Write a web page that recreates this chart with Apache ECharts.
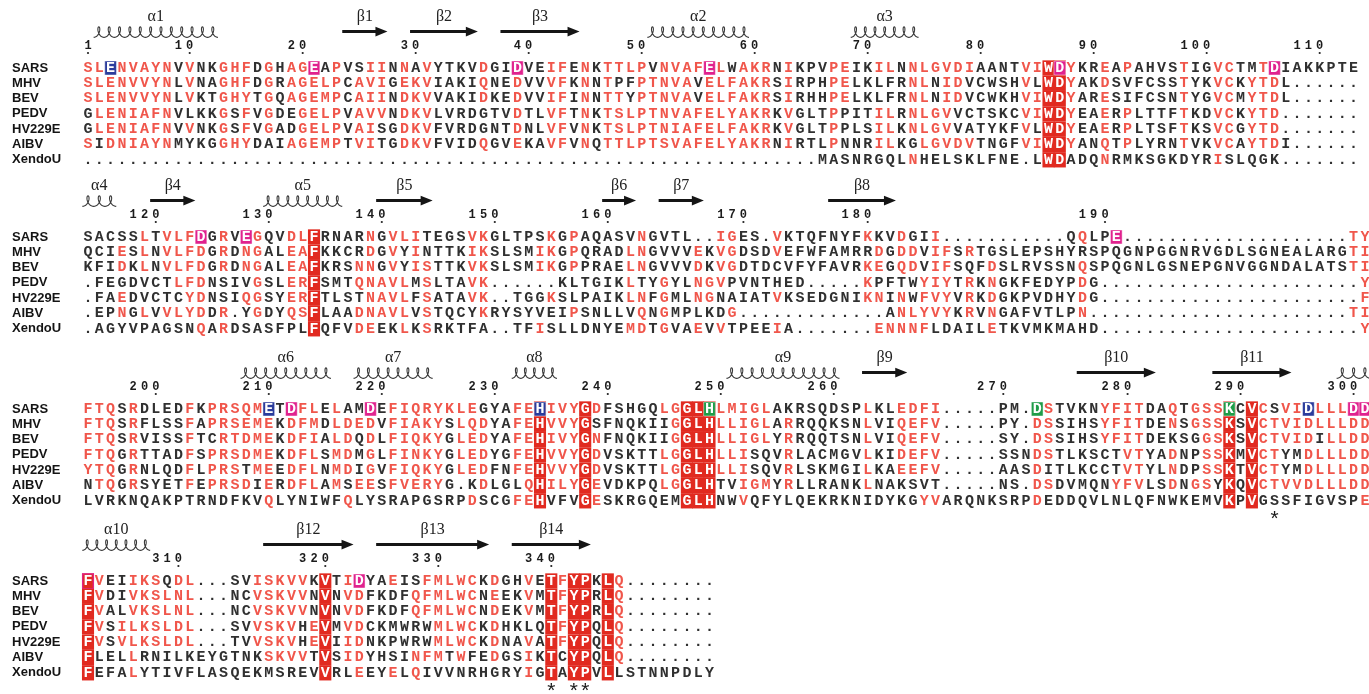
<!DOCTYPE html>
<html>
<head>
<meta charset="utf-8">
<title>Sequence alignment</title>
<script src="https://cdn.jsdelivr.net/npm/echarts@6/dist/echarts.min.js"></script>
<style>
  html, body { margin: 0; padding: 0; background: #ffffff; }
  #chart { width: 1369px; height: 694px; }
</style>
</head>
<body>
<div id="chart"></div>
<script>
// ---------------------------------------------------------------------------
// Alignment data: one array of sequences per block (rows in seqNames order)
// ---------------------------------------------------------------------------
const seqNames = ['SARS', 'MHV', 'BEV', 'PEDV', 'HV229E', 'AIBV', 'XendoU'];

const block1Seqs = [
  'SLENVAYNVVNKGHFDGHAGEAPVSIINNAVYTKVDGIDVEIFENKTTLPVNVAFELWAKRNIKPVPEIKILNNLGVDIAANTVIWDYKREAPAHVSTIGVCTMTDIAKKPTE',
  'SLENVVYNLVNAGHFDGRAGELPCAVIGEKVIAKIQNEDVVVFKNNTPFPTNVAVELFAKRSIRPHPELKLFRNLNIDVCWSHVLWDYAKDSVFCSSTYKVCKYTDL......',
  'SLENVVYNLVKTGHYTGQAGEMPCAIINDKVVAKIDKEDVVIFINNTTYPTNVAVELFAKRSIRHHPELKLFRNLNIDVCWKHVIWDYARESIFCSNTYGVCMYTDL......',
  'GLENIAFNVLKKGSFVGDEGELPVAVVNDKVLVRDGTVDTLVFTNKTSLPTNVAFELYAKRKVGLTPPITILRNLGVVCTSKCVIWDYEAERPLTTFTKDVCKYTD.......',
  'GLENIAFNVVNKGSFVGADGELPVAISGDKVFVRDGNTDNLVFVNKTSLPTNIAFELFAKRKVGLTPPLSILKNLGVVATYKFVLWDYEAERPLTSFTKSVCGYTD.......',
  'SIDNIAYNMYKGGHYDAIAGEMPTVITGDKVFVIDQGVEKAVFVNQTTLPTSVAFELYAKRNIRTLPNNRILKGLGVDVTNGFVIWDYANQTPLYRNTVKVCAYTDI......',
  '..........' + '..........' + '..........' + '..........' + '..........' + '..........' + '.....' +
    'MASNRGQLNHELSKLFNE.LWDADQNRMKSGKDYRISLQGK.......'
];

const block2Seqs = [
  'SACSSLTVLFDGRVEGQVDLFRNARNGVLITEGSVKGLTPSKGPAQASVNGVTL..IGES.VKTQFNYFKKVDGII...........QQLPE....................TY',
  'QCIESLNVLFDGRDNGALEAFKKCRDGVYINTTKIKSLSMIKGPQRADLNGVVVEKVGDSDVEFWFAMRRDGDDVIFSRTGSLEPSHYRSPQGNPGGNRVGDLSGNEALARGTI',
  'KFIDKLNVLFDGRDNGALEAFKRSNNGVYISTTKVKSLSMIKGPPRAELNGVVVDKVGDTDCVFYFAVRKEGQDVIFSQFDSLRVSSNQSPQGNLGSNEPGNVGGNDALATSTI',
  '.FEGDVCTLFDNSIVGSLERFSMTQNAVLMSLTAVK......KLTGIKLTYGYLNGVPVNTHED.....KPFTWYIYTRKNGKFEDYPDG.......................Y',
  '.FAEDVCTCYDNSIQGSYERFTLSTNAVLFSATAVK..TGGKSLPAIKLNFGMLNGNAIATVKSEDGNIKNINWFVYVRKDGKPVDHYDG.......................F',
  '.EPNGLVVLYDDR.YGDYQSFLAADNAVLVSTQCYKRYSYVEIPSNLLVQNGMPLKDG.............ANLYVYKRVNGAFVTLPN.......................TI',
  '.AGYVPAGSNQARDSASFPLFQFVDEEKLKSRKTFA..TFISLLDNYEMDTGVAEVVTPEEIA.......ENNNFLDAILETKVMKMAHD.......................Y'
];

const block3Seqs = [
  'FTQSRDLEDFKPRSQMETDFLELAMDEFIQRYKLEGYAFEHIVYGDFSHGQLGGLHLMIGLAKRSQDSPLKLEDFI.....PM.DSTVKNYFITDAQTGSSKCVCSVIDLLLDD',
  'FTQSRFLSSFAPRSEMEKDFMDLDEDVFIAKYSLQDYAFEHVVYGSFNQKIIGGLHLLIGLARRQQKSNLVIQEFV.....PY.DSSIHSYFITDENSGSSKSVCTVIDLLLDD',
  'FTQSRVISSFTCRTDMEKDFIALDQDLFIQKYGLEDYAFEHIVYGNFNQKIIGGLHLLIGLYRRQQTSNLVIQEFV.....SY.DSSIHSYFITDEKSGGSKSVCTVIDILLDD',
  'FTQGRTTADFSPRSDMEKDFLSMDMGLFINKYGLEDYGFEHVVYGDVSKTTLGGLHLLISQVRLACMGVLKIDEFV.....SSNDSTLKSCTVTYADNPSSKMVCTYMDLLLDD',
  'YTQGRNLQDFLPRSTMEEDFLNMDIGVFIQKYGLEDFNFEHVVYGDVSKTTLGGLHLLISQVRLSKMGILKAEEFV.....AASDITLKCCTVTYLNDPSSKTVCTYMDLLLDD',
  'NTQGRSYETFEPRSDIERDFLAMSEESFVERYG.KDLGLQHILYGEVDKPQLGGLHTVIGMYRLLRANKLNAKSVT.....NS.DSDVMQNYFVLSDNGSYKQVCTVVDLLLDD',
  'LVRKNQAKPTRNDFKVQLYNIWFQLYSRAPGSRPDSCGFEHVFVGESKRGQEMGLHNWVQFYLQEKRKNIDYKGYVARQNKSRPDEDDQVLNLQFNWKEMVKPVGSSFIGVSPE'
];

const block4Seqs = [
  'FVEIIKSQDL...SVISKVVKVTIDYAEISFMLWCKDGHVETFYPKLQ........',
  'FVDIVKSLNL...NCVSKVVNVNVDFKDFQFMLWCNEEKVMTFYPRLQ........',
  'FVALVKSLNL...NCVSKVVNVNVDFKDFQFMLWCNDEKVMTFYPRLQ........',
  'FVSILKSLDL...SVVSKVHEVMVDCKMWRWMLWCKDHKLQTFYPQLQ........',
  'FVSVLKSLDL...TVVSKVHEVIIDNKPWRWMLWCKDNAVATFYPQLQ........',
  'FLELLRNILKEYGTNKSKVVTVSIDYHSINFMTWFEDGSIKTCYPQLQ........',
  'FEFALYTIVFLASQEKMSREVVRLEEYELQIVVNRHGRYIGTAYPVLLSTNNPDLY'
];

// Residue classes, one token per alignment column, one letter per sequence:
// r = similar (red letter), k = plain, B = strictly identical (white on red),
// b / m / g = highlighted SARS residue (blue / magenta / green), M = identical
// with magenta rim.  "-" stands for a column without any similar residue.
const block1Classes = `
rrrkkrk rrrrrkk brrrrrk rrrrrrk rrrrrrk rrrrrrk rrrrrrk rrrrrrk - rrrkrkk
- - rrrrrrk rrrkkrk rrrrrrk - rrrrrkk - rrrkkrk rrrrrrk
mrrrrrk krrrrrk rrrrrrk - krrrrrk rrrrrrk rrrrkkk - rrrrrrk krrrrrk
rrrrrrk - - - - rrrkkrk - - mrrrrrk -
- rrrrrrk rrrrrrk - rrrrrrk - rrrrrrk rkrrrrk rkkrrrk rrrrrrk
krrrrrk rrrrrrk rrrrrrk rrrrrrk rkkrrrk mrrrrrk rrrrrrk krrrrrk rrrrrrk rrrrrrk
rrrrrrk - rrrrrrk - - - rrrrrrk rrrkkkk - -
rkkrrrk rkkrrrk - rrrrrkr rrrrrrk rkkrrrk rrrrrrk rrrkkrk rkkkkrk -
- - - rrrrrrk rkrrkrk BBBBBBB mBBBBBB rrrrrrk - -
rrrrrrr - rkkrrrk - - - - rrrrrrk - -
rrrrrrr rrrrrrk - krrrrrk rrrrrrk mrrrrrk - - - -
- - -`;

const block2Classes = `
- - - krrkrrk - rrrkkrk - rrrkkrk rrrrkrk rrrrrrk
mrrrrrr - rrrkkrr - mrrkrkk rrrrrrk - - rrrrrrk rrrrrrk
BBBBBBB - - - kkrrkrr rrrrrrr kkkrrrk rrrrrrk rkkrrrr rrrkkkk
kkrrrrr - - - rrrrrkk rrrrrrk - - - -
krrkkkr rrrkrkk - rrrkkrk - - - - krrrrkr rrrkrrr
- kkkrrrr - - krrrrkr kkkrrkk rrrrkkr rrrkkrk - -
- rrkkrkr - - - - - - - rkrrrkk
krrkrkr kkkkkkr rrrkrrr krrkkrr kkkrrrr rrrrrrk krrrrrk - krkrrrk -
kkrrrrr - - - - - - - rkrrrrk -
- mkkkkkk - - - - - - - -
- - - - - - - - - -
- - rrrkkrk rrrrrrr`;

const block3Classes = `
rrrrrkk rrrrrrk rrrrrrk - rrrrrrk - - - - rrrrrrk
- rrkrrrk rrrrrrk rrrrrrk rrrrkrk rrrrrkk brrrrrr - mrrrrrk rrrrrrk
rrrrrrk - rrrrrrk krrrrkr krkkkrk mrrrrrk - rrrrrrk rrrrrrk rrrrrrk
rrrrrrk rrrrrrk rkkkkkk rrrrrkk rrrrrkr krrrrrk - - rrrrrkr rrrrrrr
bBBBBBB rrrrrrk rrrrrrk rrrrrrk BBBBBBB rkrrrrr - - - -
- rkkrrrk rrrrrrk BBBBBBB BBBBBBB gBBBBBB rrrrrkk rrrrrkk rrrrrrr rrrkkrk
rrrkkrk - krrrrrk - - - - - - rrrrrrk
- - rrrrrkk rrrrrkk rrrrrkr rrrrrkr - - - -
- - - - grrrrrr rrrrkrk - - - -
rrrkkkk rrrkkrk rrrrrrk rrrrrrk - - rrkrrrk - rrkkkrk rrrrrrk
rrrrrkk gBBBBBB - BBBBBBB rrrrrrk krrrrrk rrrkkrk rrrkkrk brrrrrk rrkrrrk
rrrrrrk rrrrrrk mrrrrrk mrrrrrr`;

const block4Classes = `
MBBBBBB rrrrrkk - kkkrrkk rrrrrrr rrrrrkk rrrrrkk krrrrkk rrrrrkk rrrrrkk
- - - - - rrrrrkk rrrrrrk rrrrrrk rrrrrrk rrrkkrk
kkkrrkk BBBBBBB - rrrrrrk mrrrrrr - - rkkkkkr - krrkkrr
rrrkkrk rrrrrrk rrrrrkk rrrrrrk rrrrrkk - rrrrrrk - - rrrkrrr
- BBBBBBB rrrrrkk BBBBBBB BBBBBBB - BBBBBBB rrrrrrk - -
- - - - - -`;

// Secondary structure: [label, kind, first column, last column]
const block1Structure = [
  ['α1', 'helix', 2, 12], ['β1', 'strand', 24, 27], ['β2', 'strand', 30, 35],
  ['β3', 'strand', 38, 44], ['α2', 'helix', 51, 59], ['α3', 'helix', 69, 74]
];
const block2Structure = [
  ['α4', 'helix', 1, 3], ['β4', 'strand', 7, 10], ['α5', 'helix', 17, 23],
  ['β5', 'strand', 27, 31], ['β6', 'strand', 47, 49], ['β7', 'strand', 52, 55],
  ['β8', 'strand', 67, 72]
];
const block3Structure = [
  ['α6', 'helix', 15, 22], ['α7', 'helix', 25, 31], ['α8', 'helix', 39, 42],
  ['α9', 'helix', 58, 67], ['β9', 'strand', 70, 73], ['β10', 'strand', 89, 95],
  ['β11', 'strand', 101, 107], ['', 'helix', 112, 114]
];
const block4Structure = [
  ['α10', 'helix', 1, 6], ['β12', 'strand', 17, 24], ['β13', 'strand', 27, 36],
  ['β14', 'strand', 39, 45]
];

// Columns flagged with an asterisk under the block
const block1Marks = [];
const block2Marks = [];
const block3Marks = [106];
const block4Marks = [42, 44, 45];

// ---------------------------------------------------------------------------
// Layout and style
// ---------------------------------------------------------------------------
const COLOR = {
  text: '#303030',
  similar: '#f0564b',
  box: '#e12a20',
  blue: '#2b3c9c',
  magenta: '#e0228e',
  green: '#1f9c48',
  ink: '#151515'
};
const FONT_SEQ = 'bold 15px "Liberation Mono", "Courier New", monospace';
const FONT_NAME = 'bold 13px "Liberation Sans", Arial, sans-serif';
const FONT_NUM = 'bold 12px "Liberation Mono", "Courier New", monospace';
const FONT_SS = '16px "Liberation Serif", "Times New Roman", serif';
const FONT_MARK = '21px "Liberation Mono", "Courier New", monospace';

const PITCH = 11.3;          // px per alignment column
const ROW = 15.3;            // px per sequence row
const FIRST_ROW_Y = [68, 237, 409, 581];
const Y_MIN = -4, Y_MAX = 7.3;
const ROW_LABEL = -3.35, ROW_SS = -2.38, ROW_NUM = -1.47, ROW_DOT = -0.98, ROW_MARK = 7.3;
const NAME_COL = -5.72;

const blocks = [
  { seqs: block1Seqs, classes: block1Classes, ss: block1Structure, marks: block1Marks },
  { seqs: block2Seqs, classes: block2Classes, ss: block2Structure, marks: block2Marks },
  { seqs: block3Seqs, classes: block3Classes, ss: block3Structure, marks: block3Marks },
  { seqs: block4Seqs, classes: block4Classes, ss: block4Structure, marks: block4Marks }
];

// Residue numbering follows the first sequence (gaps are not counted)
let residue = 0;
blocks.forEach(b => {
  b.numbers = [];
  [...b.seqs[0]].forEach((ch, i) => {
    if (ch === '.') return;
    residue++;
    if (residue === 1 || residue % 10 === 0) b.numbers.push({ col: i + 1, text: String(residue) });
  });
});

// Build cell lists
blocks.forEach(b => {
  const tokens = b.classes.trim().split(/\s+/).map(t => (t === '-' ? 'kkkkkkk' : t));
  b.cells = [];
  b.seqs.forEach((s, row) => {
    [...s].forEach((ch, i) => {
      const colCode = tokens[i] || 'kkkkkkk';
      b.cells.push({ col: i + 1, row, ch, code: colCode[row] || 'k', inBox: colCode.indexOf('B') >= 0 });
    });
  });
});

const SPECIAL = { b: COLOR.blue, m: COLOR.magenta, g: COLOR.green };

function cellRenderer(cells) {
  return function (params, api) {
    const c = cells[params.dataIndex];
    const p = api.coord([api.value(0), api.value(1)]);
    const s = api.size([1, 1]);
    const w = Math.abs(s[0]), h = Math.abs(s[1]);
    const children = [];
    let fill = COLOR.text;
    if (c.ch !== '.') {
      if (c.code === 'r') fill = COLOR.similar;
      if (c.code === 'B' || c.code === 'M' || (c.inBox && SPECIAL[c.code])) {
        children.push({
          type: 'rect',
          shape: { x: p[0] - w / 2 - 0.4, y: p[1] - h / 2, width: w + 0.8, height: h },
          style: { fill: COLOR.box }
        });
        fill = '#ffffff';
      }
      if (c.code === 'M') {
        children.push({
          type: 'rect',
          shape: { x: p[0] - w / 2 + 0.3, y: p[1] - h / 2 + 0.6, width: w - 0.6, height: h - 0.6 },
          style: { fill: 'none', stroke: COLOR.magenta, lineWidth: 1.2 }
        });
      }
      if (SPECIAL[c.code]) {
        children.push({
          type: 'rect',
          shape: { x: p[0] - w / 2 - 0.2, y: p[1] - 7, width: w + 0.4, height: 14 },
          style: { fill: SPECIAL[c.code], stroke: 'rgba(255,255,255,0.45)', lineWidth: 1 }
        });
        fill = '#ffffff';
      }
    }
    children.push({
      type: 'text', x: p[0], y: p[1],
      style: { text: c.ch, fill, font: FONT_SEQ, align: 'center', verticalAlign: 'middle' }
    });
    return { type: 'group', children };
  };
}

function structureRenderer(items) {
  return function (params, api) {
    const it = items[params.dataIndex];
    const a = api.coord([api.value(0) - 0.5, ROW_SS]);
    const b = api.coord([api.value(1) + 0.5, ROW_SS]);
    const lab = api.coord([(api.value(0) + api.value(1)) / 2, ROW_LABEL]);
    const x0 = a[0], x1 = b[0], y = a[1];
    const children = [];
    if (it[1] === 'helix') {
      // coiled ribbon: a looped trochoid, one loop per ~10 px
      const n = Math.max(1, Math.round((x1 - x0) / 10));
      const period = (x1 - x0) / n;
      const r = period / (2 * Math.PI);
      const dx = period * 0.3, amp = 5.3;
      const pts = [];
      const steps = n * 28;
      for (let k = 0; k <= steps; k++) {
        const t = (k / steps) * 2 * Math.PI * n;
        pts.push([x0 + r * t + dx * Math.sin(t), y + 0.5 + amp * Math.cos(t)]);
      }
      children.push({ type: 'polyline', shape: { points: pts }, style: { stroke: '#3a3a3a', lineWidth: 1.1, fill: null } });
    } else {
      const head = 12, half = 1.5, hw = 4.8;
      const xs = x1 - head;
      children.push({
        type: 'polygon',
        shape: { points: [[x0, y - half], [xs, y - half], [xs, y - hw], [x1, y], [xs, y + hw], [xs, y + half], [x0, y + half]] },
        style: { fill: COLOR.ink }
      });
    }
    if (it[0]) {
      children.push({
        type: 'text', x: lab[0], y: lab[1],
        style: { text: it[0], fill: '#222', font: FONT_SS, align: 'center', verticalAlign: 'middle' }
      });
    }
    return { type: 'group', children };
  };
}

const grids = [], xAxes = [], yAxes = [], series = [];
blocks.forEach((b, i) => {
  grids.push({ left: 8.9, width: PITCH * 120, top: FIRST_ROW_Y[i] - (0 - Y_MIN) * ROW, height: (Y_MAX - Y_MIN) * ROW });
  xAxes.push({ gridIndex: i, type: 'value', min: -6, max: 114, show: false });
  yAxes.push({ gridIndex: i, type: 'value', min: Y_MIN, max: Y_MAX, inverse: true, show: false });

  // residues
  series.push({
    type: 'custom', xAxisIndex: i, yAxisIndex: i, clip: false, silent: true,
    data: b.cells.map(c => [c.col, c.row]),
    encode: { x: 0, y: 1 },
    renderItem: cellRenderer(b.cells)
  });

  // sequence names
  series.push({
    type: 'custom', xAxisIndex: i, yAxisIndex: i, clip: false, silent: true,
    data: seqNames.map((n, r) => [NAME_COL, r]),
    encode: { x: 0, y: 1 },
    renderItem: (params, api) => {
      const p = api.coord([api.value(0), api.value(1)]);
      return {
        type: 'text', x: p[0], y: p[1],
        style: { text: seqNames[params.dataIndex], fill: '#141414', font: FONT_NAME, align: 'left', verticalAlign: 'middle' }
      };
    }
  });

  // residue numbers: one digit per column, last digit over the numbered column
  const digits = [];
  b.numbers.forEach(nb => {
    [...nb.text].forEach((d, k) => digits.push({ col: nb.col - (nb.text.length - 1 - k), d, dot: false }));
    digits.push({ col: nb.col, d: '', dot: true });
  });
  series.push({
    type: 'custom', xAxisIndex: i, yAxisIndex: i, clip: false, silent: true,
    data: digits.map(g => [g.col, g.dot ? ROW_DOT : ROW_NUM]),
    encode: { x: 0, y: 1 },
    renderItem: (params, api) => {
      const g = digits[params.dataIndex];
      const p = api.coord([api.value(0), api.value(1)]);
      if (g.dot) return { type: 'circle', shape: { cx: p[0], cy: p[1], r: 1.1 }, style: { fill: '#222' } };
      return { type: 'text', x: p[0], y: p[1], style: { text: g.d, fill: '#1c1c1c', font: FONT_NUM, align: 'center', verticalAlign: 'middle' } };
    }
  });

  // secondary structure
  series.push({
    type: 'custom', xAxisIndex: i, yAxisIndex: i, clip: false, silent: true,
    data: b.ss.map(e => [e[2], e[3]]),
    encode: { x: [0, 1] },
    renderItem: structureRenderer(b.ss)
  });

  // asterisks
  if (b.marks.length) {
    series.push({
      type: 'custom', xAxisIndex: i, yAxisIndex: i, clip: false, silent: true,
      data: b.marks.map(c => [c, ROW_MARK]),
      encode: { x: 0, y: 1 },
      renderItem: (params, api) => {
        const p = api.coord([api.value(0), api.value(1)]);
        return { type: 'text', x: p[0], y: p[1], style: { text: '*', fill: '#1a1a1a', font: FONT_MARK, align: 'center', verticalAlign: 'middle' } };
      }
    });
  }
});

const chart = echarts.init(document.getElementById('chart'), null, { renderer: 'canvas' });
chart.setOption({
  backgroundColor: '#ffffff',
  animation: false,
  grid: grids,
  xAxis: xAxes,
  yAxis: yAxes,
  series
});
</script>
</body>
</html>
